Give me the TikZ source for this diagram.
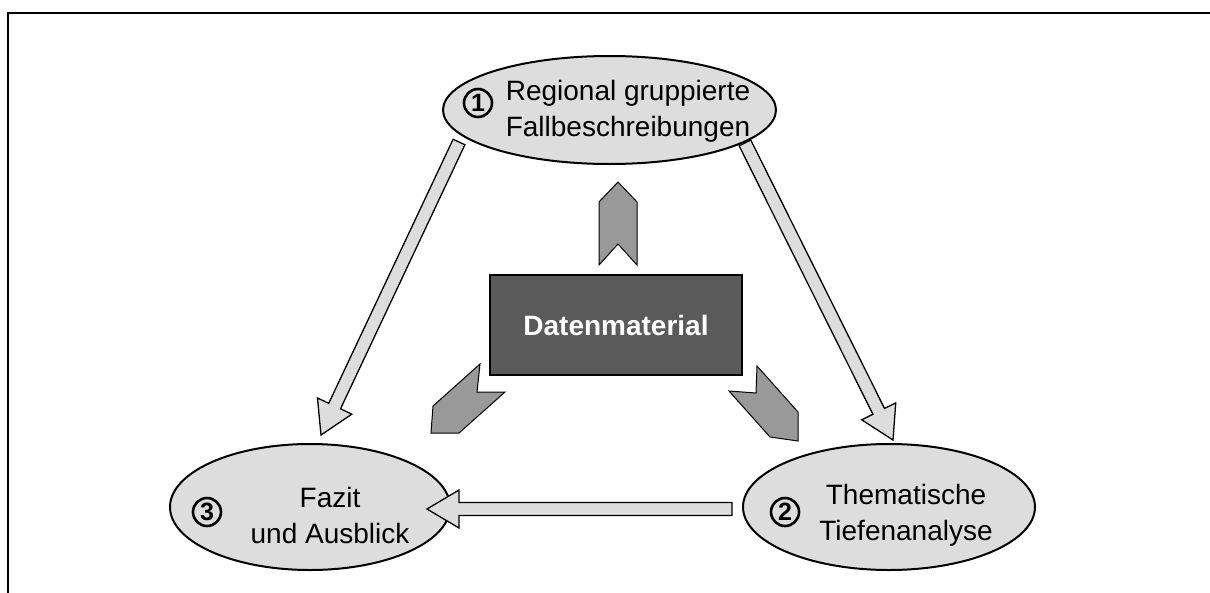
\documentclass[tikz,border=0pt]{standalone}
\usepackage{fontspec}
\setmainfont{Liberation Sans}
\usetikzlibrary{calc,shapes.geometric}
\definecolor{ellfill}{HTML}{DDDDDD}
\definecolor{chevfill}{HTML}{999999}
\definecolor{boxfill}{HTML}{5A5A5A}
\def\shaftw{6.5pt}
\def\headw{19pt}
\def\headlen{32pt}
\newcommand\hollowarrow[2]{%
  \coordinate (hb) at ($(#2)!\headlen!(#1)$);
  \draw[hollowarr] ($(#1)!\shaftw!90:(#2)$) -- ($(hb)!\shaftw!90:(#2)$) -- ($(hb)!\headw!90:(#2)$) -- (#2) -- ($(hb)!\headw!-90:(#2)$) -- ($(hb)!\shaftw!-90:(#2)$) -- ($(#1)!\shaftw!-90:(#2)$) -- cycle;}
\begin{document}
\begin{tikzpicture}[x=1pt,y=-1pt,
  ell/.style={ellipse,draw=black,line width=2pt,fill=ellfill,inner sep=0pt},
  lbl/.style={align=center,font=\fontsize{28}{36}\selectfont,inner sep=0pt},
  numc/.style={circle,draw=black,line width=2.6pt,minimum size=28pt,inner sep=0pt,font=\fontsize{25}{25}\selectfont\bfseries},
  hollowarr/.style={draw=black,line width=1.3pt,fill=ellfill,line join=miter},
  chev/.style={draw=black,line width=1pt,fill=chevfill,line join=miter},
  box/.style={draw=black,line width=2.5pt,fill=boxfill,minimum width=252pt,minimum height=100pt,inner sep=0pt,text=white,font=\fontsize{28}{34}\selectfont\bfseries}]
\useasboundingbox (0,0) rectangle (1210,592);
\fill[white] (0,0) rectangle (1210,592);
% frame
\draw[line width=2pt] (8,593) -- (8,13) -- (1211,13);

% ellipses
\node[ell,minimum width=333pt,minimum height=108pt] (e1) at (609.5,110) {};
\node[ell,minimum width=280pt,minimum height=126pt] (e3) at (310,507) {};
\node[ell,minimum width=292pt,minimum height=126pt] (e2) at (889,507) {};

% labels
\node[lbl] (t1) at (628,111) {Regional gruppierte\\Fallbeschreibungen};
\node[lbl] (t3) at (330,515) {Fazit\\und Ausblick};
\node[lbl] (t2) at (906,515) {Thematische\\Tiefenanalyse};
\node[numc] (n1) at (478,103) {1};
\node[numc] (n2) at (785,512) {2};
\node[numc] (n3) at (207,512) {3};

% central box
\node[box] (dm) at (616,325) {Datenmaterial};

% chevrons
\draw[chev] (618,182) -- (637,202) -- (637,265) -- (618,244) -- (599,265) -- (599,202) -- cycle;
\draw[chev] (480,364) -- (477,392) -- (505,392) -- (459,433) -- (431,433) -- (433,406) -- cycle;
\draw[chev] (757,366) -- (798,412) -- (798,441) -- (770,437) -- (729,391) -- (756,393) -- cycle;

% hollow arrows
\coordinate (a1s) at (459,142);
\coordinate (a1e) at (321,435);
\coordinate (a2s) at (745,143);
\coordinate (a2e) at (893,440);
\coordinate (a3s) at (732,509);
\coordinate (a3e) at (427,509);
\hollowarrow{a1s}{a1e}
\hollowarrow{a2s}{a2e}
\hollowarrow{a3s}{a3e}
\end{tikzpicture}
\end{document}
